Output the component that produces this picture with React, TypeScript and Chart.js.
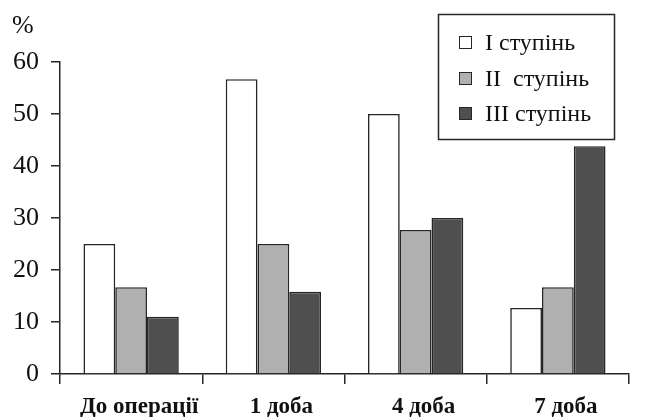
import React, { useEffect, useRef } from "react";
import { Chart, registerables } from "chart.js";

Chart.register(...registerables);

const categories = ["До операції", "1 доба", "4 доба", "7 доба"];
const seriesLabels = ["I ступінь", "II  ступінь", "III ступінь"];
const stage1 = [25, 56.7, 50, 12.7];
const stage2 = [16.7, 25, 27.7, 16.7];
const stage3 = [11, 15.8, 30, 43.8];
const yTicks = [0, 10, 20, 30, 40, 50, 60];
const unitLabel = "%";

const FONT = "'Liberation Serif', 'Times New Roman', serif";
const colors = ["#ffffff", "#b0b0b0", "#4f4f4f"];
const LINE = "#262626";

const legendPlugin = {
  id: "customLegend",
  afterDraw(chart: any) {
    const ctx = chart.ctx;
    ctx.save();
    // unit label
    ctx.font = `26px ${FONT}`;
    ctx.fillStyle = "#111";
    ctx.textAlign = "left";
    ctx.textBaseline = "middle";
    ctx.fillText(unitLabel, 12, 26);
    // legend box
    const bx = 438.5, by = 14.5, bw = 176, bh = 125;
    ctx.fillStyle = "#ffffff";
    ctx.fillRect(bx, by, bw, bh);
    ctx.strokeStyle = LINE;
    ctx.lineWidth = 1.5;
    ctx.strokeRect(bx, by, bw, bh);
    const rows = [43, 79, 114];
    chart.data.datasets.forEach((ds: any, i: number) => {
      const cy = rows[i];
      ctx.fillStyle = ds.backgroundColor;
      ctx.fillRect(459.5, cy - 6.5, 12, 12);
      ctx.strokeStyle = LINE;
      ctx.lineWidth = 1;
      ctx.strokeRect(459.5, cy - 6.5, 12, 12);
      ctx.fillStyle = "#111";
      ctx.font = `24px ${FONT}`;
      ctx.textAlign = "left";
      ctx.textBaseline = "middle";
      ctx.fillText(ds.label, 485, cy + 1);
    });
    ctx.restore();
  },
};

export default function App() {
  const ref = useRef<HTMLCanvasElement | null>(null);
  useEffect(() => {
    if (!ref.current) return;
    const chart = new Chart(ref.current, {
      type: "bar",
      data: {
        labels: categories,
        datasets: [stage1, stage2, stage3].map((d, i) => ({
          label: seriesLabels[i],
          data: d,
          backgroundColor: colors[i],
          borderColor: LINE,
          borderWidth: 1.6,
          categoryPercentage: 0.67,
          barPercentage: 1.0,
        })),
      },
      options: {
        responsive: false,
        animation: false,
        layout: { padding: { top: 62, right: 18, left: 0, bottom: 0 } },
        plugins: { legend: { display: false }, tooltip: { enabled: false } },
        scales: {
          x: {
            grid: {
              display: true,
              offset: true,
              drawOnChartArea: false,
              drawTicks: true,
              tickLength: 10,
              color: LINE,
              lineWidth: 1.5,
            },
            border: { display: true, color: LINE, width: 1.5 },
            ticks: {
              font: { family: FONT, size: 23, weight: "bold" },
              color: "#111",
              padding: 9,
              labelOffset: 8,
              maxRotation: 0,
            },
            afterFit: (s: any) => {
              s.height = 43;
            },
          },
          y: {
            min: 0,
            max: 60,
            afterBuildTicks: (s: any) => {
              s.ticks = yTicks.map((v) => ({ value: v }));
            },
            grid: {
              display: true,
              drawOnChartArea: false,
              drawTicks: true,
              tickLength: 9,
              color: LINE,
              lineWidth: 1.5,
            },
            border: { display: true, color: LINE, width: 1.5 },
            ticks: {
              font: { family: FONT, size: 26 },
              color: "#111",
              padding: 12,
            },
            afterFit: (s: any) => {
              s.width = 60;
            },
          },
        },
      },
      plugins: [legendPlugin],
    });
    return () => chart.destroy();
  }, []);
  return (
    <canvas
      ref={ref}
      width={647}
      height={417}
      style={{ position: "fixed", left: 0, top: 0, width: 647, height: 417 }}
    />
  );
}
